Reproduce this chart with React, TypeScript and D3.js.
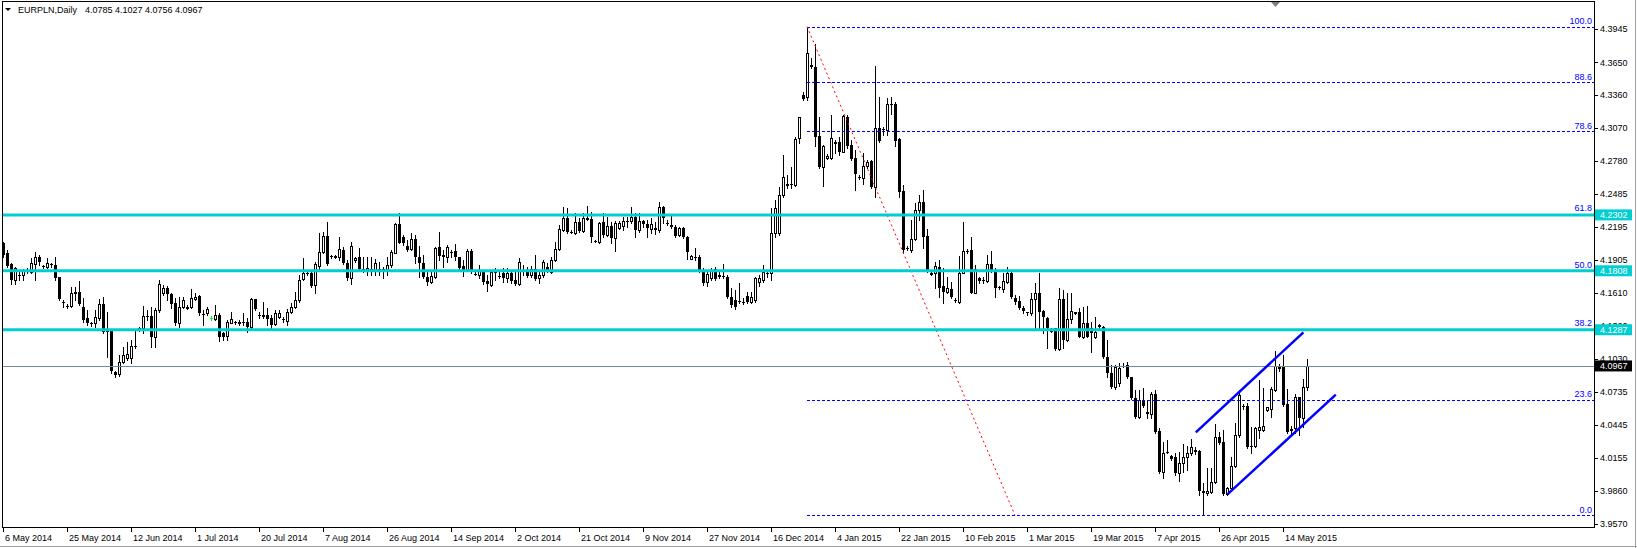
import * as d3 from "d3";

const symbolName = "EURPLN,Daily";
const headerQuote = "4.0785 4.1027 4.0756 4.0967";

// daily bars: [open, high, low, close]
const bars: number[][] = [
  [4.2051, 4.2066, 4.1933, 4.1948], [4.1963, 4.1992, 4.1845, 4.1854], [4.1865, 4.1880, 4.1689, 4.1727],
  [4.1727, 4.1845, 4.1689, 4.1830], [4.1771, 4.1801, 4.1727, 4.1774], [4.1771, 4.1824, 4.1727, 4.1815],
  [4.1812, 4.1830, 4.1786, 4.1809], [4.1801, 4.1918, 4.1786, 4.1874], [4.1865, 4.1977, 4.1727, 4.1933],
  [4.1933, 4.1948, 4.1860, 4.1889], [4.1848, 4.1860, 4.1830, 4.1845], [4.1845, 4.1918, 4.1830, 4.1880],
  [4.1868, 4.1880, 4.1845, 4.1865], [4.1860, 4.1927, 4.1727, 4.1742], [4.1751, 4.1757, 4.1550, 4.1556],
  [4.1530, 4.1550, 4.1485, 4.1527], [4.1500, 4.1515, 4.1477, 4.1497], [4.1497, 4.1668, 4.1491, 4.1609],
  [4.1618, 4.1668, 4.1550, 4.1600], [4.1624, 4.1718, 4.1506, 4.1515], [4.1491, 4.1565, 4.1359, 4.1373],
  [4.1391, 4.1462, 4.1329, 4.1344], [4.1347, 4.1359, 4.1323, 4.1344], [4.1344, 4.1462, 4.1315, 4.1397],
  [4.1388, 4.1556, 4.1373, 4.1512], [4.1512, 4.1580, 4.1256, 4.1270], [4.1273, 4.1447, 4.1049, 4.1270],
  [4.1276, 4.1285, 4.0908, 4.0923], [4.0914, 4.0926, 4.0873, 4.0887], [4.0893, 4.1064, 4.0879, 4.0999],
  [4.0999, 4.1138, 4.0990, 4.1064], [4.1035, 4.1182, 4.1020, 4.1070], [4.1035, 4.1197, 4.0990, 4.1147],
  [4.1144, 4.1285, 4.1123, 4.1147], [4.1297, 4.1315, 4.1279, 4.1300], [4.1300, 4.1497, 4.1262, 4.1409],
  [4.1412, 4.1462, 4.1373, 4.1409], [4.1409, 4.1485, 4.1138, 4.1220], [4.1220, 4.1477, 4.1138, 4.1462],
  [4.1462, 4.1727, 4.1447, 4.1692], [4.1615, 4.1683, 4.1594, 4.1653], [4.1653, 4.1674, 4.1550, 4.1603],
  [4.1603, 4.1609, 4.1477, 4.1515], [4.1527, 4.1565, 4.1329, 4.1350], [4.1350, 4.1580, 4.1315, 4.1485],
  [4.1485, 4.1580, 4.1477, 4.1550], [4.1482, 4.1506, 4.1468, 4.1485], [4.1491, 4.1644, 4.1477, 4.1565],
  [4.1556, 4.1609, 4.1550, 4.1580], [4.1586, 4.1594, 4.1418, 4.1432], [4.1429, 4.1462, 4.1329, 4.1426],
  [4.1432, 4.1491, 4.1418, 4.1468], [4.1391, 4.1409, 4.1373, 4.1391], [4.1379, 4.1506, 4.1373, 4.1418],
  [4.1418, 4.1432, 4.1191, 4.1226], [4.1256, 4.1270, 4.1197, 4.1226], [4.1235, 4.1373, 4.1197, 4.1353],
  [4.1350, 4.1447, 4.1344, 4.1382], [4.1353, 4.1362, 4.1341, 4.1350], [4.1350, 4.1373, 4.1329, 4.1353],
  [4.1353, 4.1432, 4.1329, 4.1350], [4.1353, 4.1388, 4.1270, 4.1309], [4.1309, 4.1565, 4.1300, 4.1556],
  [4.1556, 4.1556, 4.1462, 4.1468], [4.1415, 4.1447, 4.1388, 4.1418], [4.1418, 4.1535, 4.1388, 4.1403],
  [4.1418, 4.1477, 4.1329, 4.1379], [4.1388, 4.1418, 4.1300, 4.1329], [4.1338, 4.1462, 4.1329, 4.1432],
  [4.1397, 4.1462, 4.1388, 4.1432], [4.1379, 4.1403, 4.1359, 4.1382], [4.1368, 4.1468, 4.1329, 4.1441],
  [4.1441, 4.1527, 4.1432, 4.1485], [4.1485, 4.1624, 4.1477, 4.1550], [4.1550, 4.1771, 4.1535, 4.1727],
  [4.1733, 4.1918, 4.1727, 4.1792], [4.1789, 4.1801, 4.1771, 4.1786], [4.1792, 4.1801, 4.1662, 4.1674],
  [4.1683, 4.1889, 4.1609, 4.1868], [4.1854, 4.2145, 4.1815, 4.1971], [4.1971, 4.2154, 4.1963, 4.2116],
  [4.2116, 4.2243, 4.1860, 4.1868], [4.1936, 4.1948, 4.1918, 4.1933], [4.1933, 4.1945, 4.1925, 4.1936],
  [4.1927, 4.2110, 4.1904, 4.1998], [4.1992, 4.2022, 4.1868, 4.1874], [4.1874, 4.1904, 4.1727, 4.1742],
  [4.1742, 4.2066, 4.1689, 4.2027], [4.1904, 4.1933, 4.1889, 4.1918], [4.1927, 4.2013, 4.1815, 4.1824],
  [4.1827, 4.1933, 4.1801, 4.1824], [4.1809, 4.1933, 4.1771, 4.1836], [4.1824, 4.1933, 4.1771, 4.1827],
  [4.1815, 4.1910, 4.1771, 4.1874], [4.1827, 4.1889, 4.1771, 4.1824], [4.1824, 4.1845, 4.1742, 4.1827],
  [4.1815, 4.1933, 4.1771, 4.1860], [4.1860, 4.1992, 4.1845, 4.1977], [4.1969, 4.2228, 4.1963, 4.2222],
  [4.2221, 4.2316, 4.2050, 4.2056], [4.2104, 4.2124, 4.2036, 4.2050], [4.2027, 4.2080, 4.1986, 4.1992],
  [4.1997, 4.2145, 4.1992, 4.2086], [4.2086, 4.2124, 4.1874, 4.1933], [4.1927, 4.2030, 4.1756, 4.1874],
  [4.1874, 4.1947, 4.1741, 4.1756], [4.1750, 4.1815, 4.1682, 4.1712], [4.1712, 4.1800, 4.1703, 4.1762],
  [4.1756, 4.2021, 4.1741, 4.2006], [4.2015, 4.2154, 4.1903, 4.1939], [4.1947, 4.1992, 4.1844, 4.1927],
  [4.1927, 4.2036, 4.1888, 4.2015], [4.1971, 4.1992, 4.1933, 4.1968], [4.1986, 4.2045, 4.1903, 4.1927],
  [4.1927, 4.1933, 4.1821, 4.1835], [4.1850, 4.1903, 4.1762, 4.1815], [4.1815, 4.1997, 4.1806, 4.1986],
  [4.1986, 4.1997, 4.1791, 4.1809], [4.1782, 4.1800, 4.1771, 4.1779], [4.1771, 4.1859, 4.1741, 4.1809],
  [4.1800, 4.1815, 4.1691, 4.1712], [4.1721, 4.1771, 4.1632, 4.1691], [4.1682, 4.1815, 4.1673, 4.1800],
  [4.1797, 4.1830, 4.1726, 4.1800], [4.1762, 4.1800, 4.1741, 4.1750], [4.1785, 4.1830, 4.1712, 4.1741],
  [4.1741, 4.1830, 4.1712, 4.1791], [4.1791, 4.1800, 4.1703, 4.1721], [4.1726, 4.1800, 4.1682, 4.1691],
  [4.1688, 4.1924, 4.1682, 4.1888], [4.1818, 4.1859, 4.1771, 4.1815], [4.1809, 4.1838, 4.1756, 4.1762],
  [4.1771, 4.1850, 4.1750, 4.1821], [4.1821, 4.1947, 4.1726, 4.1732], [4.1741, 4.1800, 4.1703, 4.1771],
  [4.1771, 4.1903, 4.1756, 4.1888], [4.1844, 4.1874, 4.1800, 4.1815], [4.1797, 4.1933, 4.1791, 4.1903],
  [4.1903, 4.2065, 4.1897, 4.1997], [4.1997, 4.2213, 4.1992, 4.2174], [4.2168, 4.2375, 4.2162, 4.2271],
  [4.2271, 4.2360, 4.2145, 4.2154], [4.2151, 4.2168, 4.2139, 4.2148], [4.2145, 4.2316, 4.2133, 4.2242],
  [4.2242, 4.2271, 4.2154, 4.2160], [4.2162, 4.2322, 4.2154, 4.2271], [4.2268, 4.2380, 4.2257, 4.2271],
  [4.2262, 4.2330, 4.2065, 4.2104], [4.2068, 4.2080, 4.2062, 4.2065], [4.2065, 4.2242, 4.2056, 4.2233],
  [4.2242, 4.2322, 4.2109, 4.2124], [4.2124, 4.2286, 4.2115, 4.2204], [4.2204, 4.2242, 4.2050, 4.2095],
  [4.2095, 4.2251, 4.1986, 4.2233], [4.2183, 4.2251, 4.2174, 4.2233], [4.2204, 4.2286, 4.2168, 4.2248],
  [4.2245, 4.2286, 4.2198, 4.2248], [4.2248, 4.2375, 4.2233, 4.2280], [4.2280, 4.2316, 4.2109, 4.2168],
  [4.2168, 4.2316, 4.2154, 4.2248], [4.2248, 4.2257, 4.2198, 4.2221], [4.2221, 4.2257, 4.2104, 4.2183],
  [4.2174, 4.2271, 4.2145, 4.2221], [4.2183, 4.2242, 4.2133, 4.2168], [4.2168, 4.2419, 4.2154, 4.2369],
  [4.2369, 4.2380, 4.2227, 4.2271], [4.2230, 4.2257, 4.2213, 4.2233], [4.2213, 4.2301, 4.2183, 4.2198],
  [4.2198, 4.2213, 4.2104, 4.2115], [4.2124, 4.2198, 4.2115, 4.2183], [4.2183, 4.2198, 4.2095, 4.2104],
  [4.2109, 4.2115, 4.1909, 4.1977], [4.1915, 4.1947, 4.1909, 4.1939], [4.1933, 4.2006, 4.1903, 4.1930],
  [4.1927, 4.1947, 4.1800, 4.1815], [4.1815, 4.1830, 4.1682, 4.1703], [4.1712, 4.1800, 4.1673, 4.1779],
  [4.1741, 4.1830, 4.1726, 4.1815], [4.1821, 4.1838, 4.1726, 4.1735], [4.1771, 4.1815, 4.1741, 4.1750],
  [4.1759, 4.1868, 4.1741, 4.1756], [4.1756, 4.1771, 4.1564, 4.1579], [4.1579, 4.1653, 4.1491, 4.1505],
  [4.1550, 4.1638, 4.1467, 4.1491], [4.1538, 4.1697, 4.1520, 4.1535], [4.1535, 4.1564, 4.1514, 4.1520],
  [4.1585, 4.1623, 4.1520, 4.1535], [4.1535, 4.1623, 4.1526, 4.1579], [4.1550, 4.1756, 4.1535, 4.1741],
  [4.1712, 4.1771, 4.1673, 4.1741], [4.1726, 4.1859, 4.1712, 4.1800], [4.1785, 4.1815, 4.1756, 4.1788],
  [4.1786, 4.2361, 4.1727, 4.2140], [4.2140, 4.2434, 4.2110, 4.2361], [4.2140, 4.2551, 4.2124, 4.2478],
  [4.2478, 4.2831, 4.2463, 4.2640], [4.2569, 4.2655, 4.2537, 4.2572], [4.2572, 4.2729, 4.2537, 4.2569],
  [4.2566, 4.2994, 4.2560, 4.2973], [4.2979, 4.3170, 4.2935, 4.3164], [4.3362, 4.3391, 4.3317, 4.3323],
  [4.3341, 4.3966, 4.3317, 4.3730], [4.3627, 4.3686, 4.3597, 4.3606], [4.3606, 4.3812, 4.2911, 4.2994],
  [4.3000, 4.3164, 4.2714, 4.2722], [4.2722, 4.2919, 4.2557, 4.2911], [4.2801, 4.2840, 4.2793, 4.2822],
  [4.2801, 4.3185, 4.2793, 4.2979], [4.2940, 4.2964, 4.2847, 4.2943], [4.2943, 4.2994, 4.2831, 4.2861],
  [4.2861, 4.3185, 4.2855, 4.3176], [4.3170, 4.3185, 4.2890, 4.2911], [4.2919, 4.2964, 4.2787, 4.2796],
  [4.2801, 4.2876, 4.2522, 4.2660], [4.2634, 4.2655, 4.2617, 4.2631], [4.2625, 4.2853, 4.2575, 4.2734],
  [4.2734, 4.2787, 4.2714, 4.2767], [4.2779, 4.2787, 4.2537, 4.2552], [4.2552, 4.3617, 4.2464, 4.3067],
  [4.3067, 4.3341, 4.2949, 4.2958], [4.3058, 4.3076, 4.3009, 4.3061], [4.3052, 4.3332, 4.3009, 4.3282],
  [4.3285, 4.3347, 4.3194, 4.3282], [4.3282, 4.3303, 4.2911, 4.2958], [4.2973, 4.2979, 4.2457, 4.2507],
  [4.2513, 4.2566, 4.1962, 4.1992], [4.2009, 4.2027, 4.1992, 4.2012], [4.1992, 4.2257, 4.1977, 4.2086],
  [4.2086, 4.2405, 4.2080, 4.2345], [4.2345, 4.2478, 4.2257, 4.2419], [4.2419, 4.2522, 4.2006, 4.2104],
  [4.2115, 4.2174, 4.1800, 4.1815], [4.1782, 4.1800, 4.1771, 4.1785], [4.1785, 4.1888, 4.1653, 4.1850],
  [4.1844, 4.1903, 4.1573, 4.1653], [4.1673, 4.1830, 4.1526, 4.1623], [4.1623, 4.1756, 4.1609, 4.1653],
  [4.1644, 4.1712, 4.1564, 4.1573], [4.1550, 4.1564, 4.1535, 4.1553], [4.1535, 4.1939, 4.1526, 4.1791],
  [4.1791, 4.2242, 4.1785, 4.1986], [4.1983, 4.1997, 4.1962, 4.1986], [4.1992, 4.2109, 4.1609, 4.1615],
  [4.1615, 4.1859, 4.1609, 4.1821], [4.1741, 4.1756, 4.1703, 4.1721], [4.1724, 4.1750, 4.1703, 4.1721],
  [4.1721, 4.1947, 4.1712, 4.1865], [4.1865, 4.1986, 4.1800, 4.1815], [4.1815, 4.1830, 4.1579, 4.1653],
  [4.1668, 4.1673, 4.1644, 4.1653], [4.1644, 4.1785, 4.1623, 4.1718], [4.1712, 4.1838, 4.1703, 4.1785],
  [4.1785, 4.1800, 4.1564, 4.1573], [4.1570, 4.1594, 4.1514, 4.1535], [4.1541, 4.1585, 4.1467, 4.1476],
  [4.1482, 4.1497, 4.1438, 4.1455], [4.1441, 4.1447, 4.1417, 4.1438], [4.1438, 4.1609, 4.1417, 4.1556],
  [4.1556, 4.1697, 4.1299, 4.1615], [4.1615, 4.1791, 4.1299, 4.1447], [4.1452, 4.1461, 4.1255, 4.1402],
  [4.1388, 4.1402, 4.1123, 4.1299], [4.1273, 4.1299, 4.1270, 4.1276], [4.1299, 4.1299, 4.1108, 4.1114],
  [4.1114, 4.1653, 4.1108, 4.1556], [4.1556, 4.1638, 4.1123, 4.1196], [4.1196, 4.1609, 4.1190, 4.1379],
  [4.1379, 4.1609, 4.1343, 4.1455], [4.1438, 4.1447, 4.1426, 4.1441], [4.1447, 4.1476, 4.1220, 4.1226],
  [4.1226, 4.1491, 4.1211, 4.1343], [4.1343, 4.1497, 4.1220, 4.1226], [4.1299, 4.1358, 4.1093, 4.1255],
  [4.1220, 4.1402, 4.1211, 4.1270], [4.1329, 4.1338, 4.1305, 4.1314], [4.1314, 4.1320, 4.1034, 4.1043],
  [4.1043, 4.1196, 4.0872, 4.0902], [4.0908, 4.0976, 4.0769, 4.0778], [4.0778, 4.0976, 4.0760, 4.0961],
  [4.0813, 4.0990, 4.0790, 4.0946], [4.0970, 4.0990, 4.0961, 4.0967], [4.0976, 4.1005, 4.0858, 4.0867],
  [4.0867, 4.0872, 4.0672, 4.0681], [4.0681, 4.0755, 4.0504, 4.0519], [4.0519, 4.0755, 4.0504, 4.0666],
  [4.0660, 4.0769, 4.0607, 4.0613], [4.0563, 4.0666, 4.0504, 4.0540], [4.0540, 4.0740, 4.0504, 4.0716],
  [4.0716, 4.0755, 4.0378, 4.0386], [4.0392, 4.0416, 4.0018, 4.0033], [4.0033, 4.0298, 3.9974, 4.0201],
  [4.0207, 4.0313, 4.0195, 4.0210], [4.0171, 4.0177, 4.0136, 4.0142], [4.0160, 4.0195, 4.0003, 4.0018],
  [4.0024, 4.0210, 3.9953, 4.0106], [4.0106, 4.0277, 4.0033, 4.0160], [4.0160, 4.0260, 4.0048, 4.0195],
  [4.0195, 4.0319, 4.0180, 4.0248], [4.0219, 4.0254, 4.0189, 4.0222], [4.0219, 4.0224, 3.9827, 3.9865],
  [3.9865, 3.9930, 3.9647, 3.9841], [3.9841, 4.0062, 3.9827, 3.9865], [3.9856, 4.0062, 3.9841, 3.9944],
  [3.9944, 4.0454, 3.9930, 4.0342], [4.0342, 4.0386, 4.0277, 4.0283], [4.0292, 4.0401, 3.9827, 3.9835],
  [3.9835, 3.9900, 3.9827, 3.9886], [3.9886, 4.0165, 3.9871, 4.0083], [4.0083, 4.0466, 4.0077, 4.0357],
  [4.0357, 4.0755, 4.0342, 4.0710], [4.0610, 4.0631, 4.0584, 4.0607], [4.0613, 4.0637, 4.0239, 4.0254],
  [4.0260, 4.0431, 4.0195, 4.0263], [4.0263, 4.0431, 4.0254, 4.0416], [4.0401, 4.0843, 4.0327, 4.0431],
  [4.0401, 4.0769, 4.0395, 4.0436], [4.0578, 4.0607, 4.0572, 4.0601], [4.0584, 4.0778, 4.0519, 4.0760],
  [4.0755, 4.1102, 4.0749, 4.0967], [4.0967, 4.0984, 4.0925, 4.0937], [4.0961, 4.1064, 4.0613, 4.0622],
  [4.0631, 4.0760, 4.0372, 4.0386], [4.0404, 4.0436, 4.0366, 4.0407], [4.0416, 4.0719, 4.0372, 4.0696],
  [4.0696, 4.0696, 4.0357, 4.0504], [4.0504, 4.0855, 4.0431, 4.0778], [4.0785, 4.1027, 4.0756, 4.0967],
];

const priceTicks = [
  4.3945, 4.365, 4.336, 4.307, 4.278, 4.2485, 4.2195, 4.1905,
  4.161, 4.132, 4.103, 4.0735, 4.0445, 4.0155, 3.986, 3.957,
];

const dateLabels = [
  "6 May 2014", "25 May 2014", "12 Jun 2014", "1 Jul 2014", "20 Jul 2014", "7 Aug 2014",
  "26 Aug 2014", "14 Sep 2014", "2 Oct 2014", "21 Oct 2014", "9 Nov 2014", "27 Nov 2014",
  "16 Dec 2014", "4 Jan 2015", "22 Jan 2015", "10 Feb 2015", "1 Mar 2015", "19 Mar 2015",
  "7 Apr 2015", "26 Apr 2015", "14 May 2015",
];
const barsPerLabel = 16;

// horizontal levels
const levels = [4.2302, 4.1808, 4.1287];

// fibo retracement anchors [bar, price]
const fibHigh = [201, 4.3966];
const fibLow = [253, 3.9647];
const fibRatios = [0, 23.6, 38.2, 50, 61.8, 78.6, 88.6, 100];

// channel [bar, price] endpoints
const channelUpper = [[298.2, 4.038], [325.1, 4.1264]];
const channelLower = [[306.1, 3.9832], [333.2, 4.0713]];

const shiftBar = 318;

const W = 1637;
const H = 548;
const left = 2;
const top = 1;
const right = 1594;
const bottom = 527;
const font = "'Liberation Sans', Arial, sans-serif";

export default function App() {
  const x = d3.scaleLinear().domain([0, 397.75]).range([3, right]);
  const y = d3.scaleLinear().domain([3.957, 4.3945]).range([524, 29]);
  const lastClose = bars[bars.length - 1][3];
  const fibY = (r: number) => y(fibLow[1] + ((fibHigh[1] - fibLow[1]) * r) / 100);
  const line = d3.line<number[]>().x((d) => x(d[0])).y((d) => y(d[1]));
  // fibo levels that sit under a solid level line are covered by it
  const fibVisible = fibRatios.filter((r) => !levels.some((v) => Math.abs(y(v) - fibY(r)) < 4));

  return (
    <div style={{ position: "absolute", left: 0, top: 0 }}>
      <svg width={W} height={H} style={{ display: "block", background: "#fff" }} fontFamily={font}>
        {/* candles */}
        <g shapeRendering="crispEdges">
          {bars.map((b, i) => {
            const [o, h, l, c] = b;
            const cx = Math.round(x(i));
            const yH = Math.round(y(h));
            const yL = Math.round(y(l));
            const yT = Math.round(y(Math.max(o, c)));
            const yB = Math.round(y(Math.min(o, c)));
            const col = o === c ? "#00ff00" : "#000";
            const bull = c > o && yB - yT >= 1;
            return (
              <g key={i}>
                <rect x={cx} y={yH} width={1} height={Math.max(1, yL - yH + 1)} fill={col} />
                {bull ? (
                  <rect x={cx - 0.5} y={yT + 0.5} width={2} height={yB - yT} fill="#fff" stroke="#000" />
                ) : (
                  <rect x={cx - 1} y={yT} width={3} height={Math.max(1, yB - yT)} fill={col} />
                )}
              </g>
            );
          })}
        </g>

        {/* fibo */}
        {fibVisible.map((r) => (
          <line key={"f" + r} x1={x(fibHigh[0])} x2={right} y1={Math.round(fibY(r)) + 0.5} y2={Math.round(fibY(r)) + 0.5}
            stroke="#0000ff" strokeWidth={1} strokeDasharray="3,2" />
        ))}
        <line x1={x(fibHigh[0])} y1={y(fibHigh[1])} x2={x(fibLow[0])} y2={y(fibLow[1])}
          stroke="#ff0000" strokeWidth={1} strokeDasharray="2,3" />

        {/* levels */}
        {levels.map((v) => (
          <line key={"l" + v} x1={left} x2={right} y1={y(v)} y2={y(v)} stroke="#00ced1" strokeWidth={3} />
        ))}
        <line x1={left} x2={right} y1={Math.round(y(lastClose)) + 0.5} y2={Math.round(y(lastClose)) + 0.5}
          stroke="#778899" strokeWidth={1} />

        {fibRatios.map((r) => (
          <text key={"ft" + r} x={right - 2} y={fibY(r) - 2.5} textAnchor="end" fontSize={9} fill="#0000ff">
            {r.toFixed(1)}
          </text>
        ))}

        {/* channel */}
        <path d={line(channelUpper) ?? ""} stroke="#0000ff" strokeWidth={2.5} fill="none" />
        <path d={line(channelLower) ?? ""} stroke="#0000ff" strokeWidth={2.5} fill="none" />

        {/* frame */}
        <rect x={left + 0.5} y={top + 0.5} width={right - left} height={bottom - top}
          fill="none" stroke="#000" shapeRendering="crispEdges" />
        <line x1={1635.5} x2={1635.5} y1={0} y2={H} stroke="#a0a0a0" />
        <line x1={0} x2={W} y1={546.5} y2={546.5} stroke="#a0a0a0" />

        {/* shift marker */}
        <path d={`M${x(shiftBar) - 4},${top + 1}L${x(shiftBar) + 5},${top + 1}L${x(shiftBar) + 0.5},${top + 6}Z`}
          fill="#808080" />

        {/* price axis */}
        {priceTicks.map((v) => (
          <g key={"p" + v}>
            <line x1={right} x2={right + 4} y1={Math.round(y(v)) + 0.5} y2={Math.round(y(v)) + 0.5} stroke="#000" />
            <text x={1600} y={y(v)} dy="0.35em" fontSize={9} fill="#000">{v.toFixed(4)}</text>
          </g>
        ))}
        {levels.map((v) => (
          <g key={"lb" + v}>
            <rect x={1595} y={y(v) - 5.5} width={37} height={11} fill="#00ced1" />
            <text x={1600} y={y(v)} dy="0.35em" fontSize={9} fill="#fff">{v.toFixed(4)}</text>
          </g>
        ))}
        <rect x={1595} y={y(lastClose) - 5.5} width={37} height={11} fill="#000" />
        <text x={1600} y={y(lastClose)} dy="0.35em" fontSize={9} fill="#fff">{lastClose.toFixed(4)}</text>

        {/* time axis */}
        {dateLabels.map((d, k) => {
          const tx = Math.round(x(k * barsPerLabel));
          return (
            <g key={d}>
              <line x1={tx + 0.5} x2={tx + 0.5} y1={bottom} y2={bottom + 5} stroke="#000" />
              <text x={tx + 2} y={541} fontSize={9} fill="#000">{d}</text>
            </g>
          );
        })}

        {/* header */}
        <path d="M5,8L11,8L8,11Z" fill="#000" />
        <text y={12.5} fontSize={9} fill="#000">
          <tspan x={18}>{symbolName}</tspan>
          <tspan x={85}>{headerQuote}</tspan>
        </text>
      </svg>
    </div>
  );
}
